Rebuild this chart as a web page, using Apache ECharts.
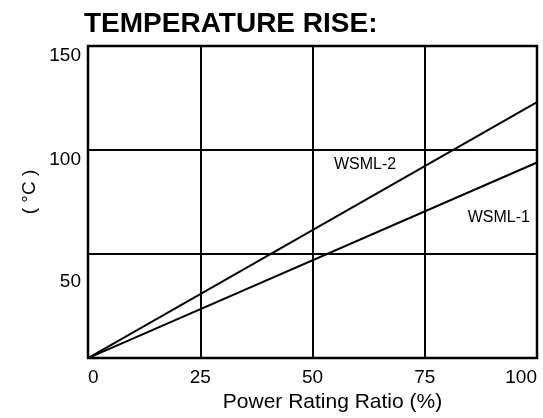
<!DOCTYPE html>
<html>
<head>
<meta charset="utf-8">
<script src="https://cdn.jsdelivr.net/npm/echarts@6/dist/echarts.min.js"></script>
<style>
html,body{margin:0;padding:0;background:#fff;}
#chart{width:543px;height:418px;}
</style>
</head>
<body>
<div id="chart"></div>
<script>
var xTicks = [0, 25, 50, 75, 100];
var yTicks = [50, 100, 150];
var seriesNames = ['WSML-2', 'WSML-1'];
var powerRatio = [0, 100];
var wsml2 = [0, 123];
var wsml1 = [0, 94];

var FONT = "'Liberation Sans', Arial, sans-serif";

function pairs(xs, ys) {
  return xs.map(function (x, i) { return [x, ys[i]]; });
}

var chart = echarts.init(document.getElementById('chart'), null, {renderer: 'canvas'});
chart.setOption({
  backgroundColor: '#fff',
  animation: false,
  title: {
    text: 'TEMPERATURE RISE:',
    left: 84,
    top: 10,
    padding: 0,
    textStyle: {fontFamily: FONT, fontWeight: 'bold', fontSize: 28, color: '#000'}
  },
  grid: {
    left: 88, right: 6, top: 46, bottom: 51,
    show: true, borderColor: '#000', borderWidth: 2.5, backgroundColor: 'transparent'
  },
  xAxis: {
    type: 'value',
    min: 0, max: 100, interval: 25,
    name: 'Power Rating Ratio (%)',
    nameLocation: 'middle',
    nameGap: 28,
    nameTextStyle: {fontFamily: FONT, fontSize: 21, color: '#000', padding: [0, 0, 0, 40]},
    axisLine: {show: false},
    axisTick: {show: false},
    splitLine: {show: true, lineStyle: {color: '#000', width: 2}},
    axisLabel: {
      fontFamily: FONT, fontSize: 19, color: '#000', margin: 10,
      alignMinLabel: 'left', alignMaxLabel: 'right',
      formatter: function (v) { return xTicks.indexOf(v) >= 0 ? String(v) : ''; }
    }
  },
  yAxis: {
    type: 'value',
    min: 0, max: 150, interval: 50,
    axisLine: {show: false},
    axisTick: {show: false},
    splitLine: {show: true, lineStyle: {color: '#000', width: 2}},
    axisLabel: {
      fontFamily: FONT, fontSize: 19, color: '#000', margin: 7,
      showMinLabel: false,
      verticalAlign: 'top',
      formatter: function (v) {
        if (yTicks.indexOf(v) < 0) return '';
        return v === 50 ? '{low|' + v + '}' : String(v);
      },
      rich: {low: {fontFamily: FONT, fontSize: 19, color: '#000', padding: [18, 0, 0, 0]}}
    }
  },
  graphic: [{
    type: 'text',
    x: 30, y: 192,
    rotation: Math.PI / 2,
    style: {text: '( °C )', fontFamily: FONT, fontSize: 19, fill: '#000', align: 'center', verticalAlign: 'middle'}
  }],
  series: [{
    name: seriesNames[0],
    type: 'line',
    data: pairs(powerRatio, wsml2),
    symbol: 'none',
    lineStyle: {color: '#000', width: 2},
    markPoint: {
      symbol: 'circle', symbolSize: 0,
      label: {show: true, position: 'inside', formatter: seriesNames[0], fontFamily: FONT, fontSize: 16, color: '#000'},
      data: [{coord: [61.7, 93]}]
    }
  }, {
    name: seriesNames[1],
    type: 'line',
    data: pairs(powerRatio, wsml1),
    symbol: 'none',
    lineStyle: {color: '#000', width: 2},
    markPoint: {
      symbol: 'circle', symbolSize: 0,
      label: {show: true, position: 'inside', formatter: seriesNames[1], fontFamily: FONT, fontSize: 16, color: '#000'},
      data: [{coord: [91.5, 67.5]}]
    }
  }]
});
</script>
</body>
</html>
